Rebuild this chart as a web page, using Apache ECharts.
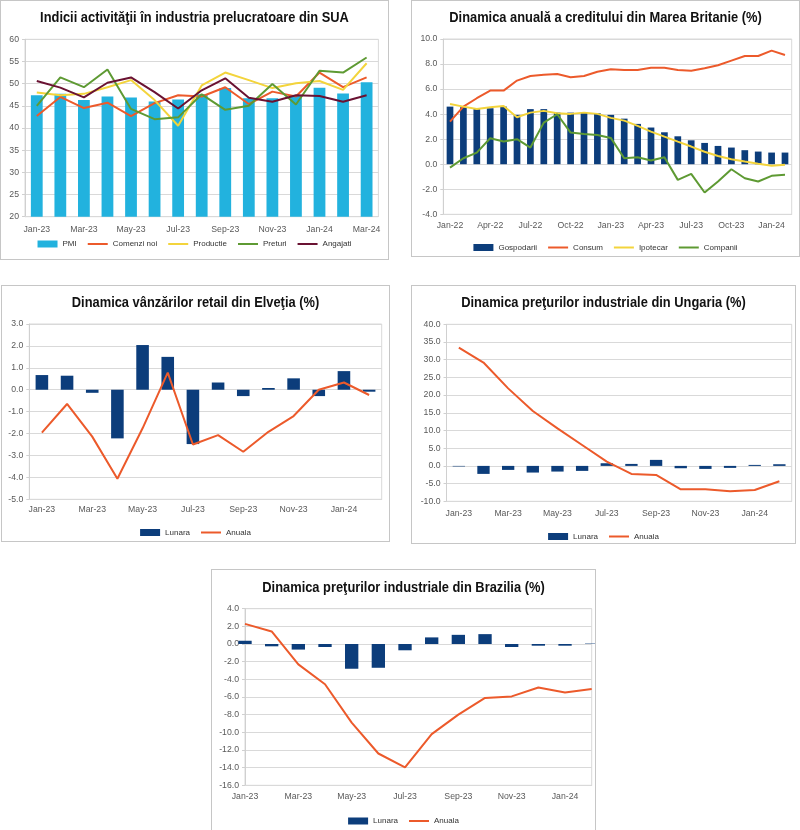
<!DOCTYPE html>
<html><head><meta charset="utf-8">
<script src="https://cdn.jsdelivr.net/npm/echarts@6/dist/echarts.min.js"></script>
<style>
body{margin:0;background:#fff;width:800px;height:830px;overflow:hidden;position:relative}
.p{position:absolute}
.b{position:absolute;border:1px solid #c6c6c6;box-sizing:border-box;pointer-events:none}
</style></head><body>
<div id="c1" class="p" style="left:0px;top:0px;width:389px;height:260px"></div>
<div id="c2" class="p" style="left:411px;top:0px;width:389px;height:257px"></div>
<div id="c3" class="p" style="left:1px;top:285px;width:389px;height:257px"></div>
<div id="c4" class="p" style="left:411px;top:285px;width:385px;height:259px"></div>
<div id="c5" class="p" style="left:211px;top:569px;width:385px;height:262px"></div>
<div class="b" style="left:0px;top:0px;width:389px;height:260px"></div>
<div class="b" style="left:411px;top:0px;width:389px;height:257px"></div>
<div class="b" style="left:1px;top:285px;width:389px;height:257px"></div>
<div class="b" style="left:411px;top:285px;width:385px;height:259px"></div>
<div class="b" style="left:211px;top:569px;width:385px;height:262px"></div>
<script>
// ---------- DATA ----------
const suaCategories = ['Jan-23','Feb-23','Mar-23','Apr-23','May-23','Jun-23','Jul-23','Aug-23','Sep-23','Oct-23','Nov-23','Dec-23','Jan-24','Feb-24','Mar-24'];
const suaPMI       = [47.4,47.7,46.3,47.1,46.9,46.0,46.4,47.6,49.0,46.7,46.7,47.4,49.1,47.8,50.3];
const suaComenzi   = [42.7,47.0,44.5,45.7,42.7,45.6,47.4,47.1,49.2,45.4,48.2,47.1,52.5,49.2,51.4];
const suaProductie = [48.0,47.4,47.7,49.2,50.8,46.3,40.5,49.6,52.5,50.8,49.0,50.1,50.6,48.6,54.6];
const suaPreturi   = [45.0,51.4,49.2,53.2,44.3,42.0,42.4,47.6,44.1,45.0,49.9,45.3,52.9,52.5,55.9];
const suaAngajati  = [50.6,49.1,46.9,50.2,51.4,48.1,44.4,48.5,51.2,46.8,45.9,47.4,47.2,45.9,47.4];

const ukCategories = ['Jan-22','Feb-22','Mar-22','Apr-22','May-22','Jun-22','Jul-22','Aug-22','Sep-22','Oct-22','Nov-22','Dec-22','Jan-23','Feb-23','Mar-23','Apr-23','May-23','Jun-23','Jul-23','Aug-23','Sep-23','Oct-23','Nov-23','Dec-23','Jan-24','Feb-24'];
const ukGospodarii = [4.6,4.55,4.4,4.47,4.6,3.94,4.4,4.4,4.12,4.12,4.12,4.07,3.94,3.64,3.22,2.93,2.55,2.23,1.91,1.7,1.46,1.33,1.12,1.01,0.93,0.93];
const ukConsum     = [3.4,4.6,5.27,5.88,5.88,6.68,7.05,7.15,7.2,6.94,7.05,7.39,7.58,7.53,7.53,7.71,7.71,7.53,7.47,7.66,7.9,8.27,8.64,8.64,9.07,8.72];
const ukIpotecar   = [4.81,4.6,4.41,4.55,4.65,3.75,4.12,4.26,4.07,4.02,4.12,4.02,3.7,3.48,3.06,2.6,2.2,1.8,1.41,1.0,0.66,0.4,0.21,0.03,-0.13,-0.05];
const ukCompanii   = [-0.27,0.48,0.93,2.07,1.81,2.0,1.33,3.32,3.99,2.53,2.42,2.34,2.1,0.48,0.56,0.29,0.56,-1.25,-0.77,-2.26,-1.38,-0.4,-1.12,-1.38,-0.93,-0.85];

const monthCategories = ['Jan-23','Feb-23','Mar-23','Apr-23','May-23','Jun-23','Jul-23','Aug-23','Sep-23','Oct-23','Nov-23','Dec-23','Jan-24','Feb-24'];
const chLunara = [0.67,0.64,-0.14,-2.22,2.04,1.5,-2.48,0.33,-0.29,0.08,0.52,-0.29,0.85,-0.09];
const chAnuala = [-1.96,-0.65,-2.14,-4.06,-1.76,0.78,-2.5,-2.07,-2.83,-1.92,-1.2,0.0,0.33,-0.24];

const huLunara = [-0.15,-2.26,-1.13,-1.88,-1.6,-1.41,0.75,0.56,1.7,-0.66,-0.85,-0.56,0.28,0.47];
const huAnuala = [33.4,29.2,21.9,15.5,10.6,5.9,1.2,-2.26,-2.54,-6.6,-6.6,-7.16,-6.8,-4.33];

const brLunara = [0.37,-0.26,-0.63,-0.34,-2.8,-2.69,-0.71,0.75,1.04,1.12,-0.34,-0.19,-0.19,0.05];
const brAnuala = [2.28,1.42,-2.31,-4.55,-8.9,-12.4,-13.96,-10.2,-8.0,-6.1,-5.93,-4.93,-5.49,-5.1];

// ---------- STYLE ----------
const AX_FONT = "'Liberation Sans', Arial, sans-serif";
const TITLE_FONT = "bold 15.5px 'Liberation Sans', Arial, sans-serif";
const NAVY = '#0c3d7b', CYAN = '#22b2de', ORANGE = '#ec5a2b', YELLOW = '#f3d43c', GREEN = '#5e9a33', MAROON = '#6a1232';
const GRIDC = '#d9d9d9';

function baseOption(o){
  return {
    animation:false,
    backgroundColor:'#fff',
    graphic:[{type:'text',x:o.width/2,y:o.titleTop,scaleX:0.83,z:10,
      style:{text:o.title,font:TITLE_FONT,fill:'#111',align:'center',verticalAlign:'top',
             textAlign:'center',textVerticalAlign:'top'}}],
    legend:{top:o.legendTop,left:'center',padding:0,itemWidth:20,itemHeight:7,itemGap:10,
      textStyle:{fontFamily:AX_FONT,fontSize:8,color:'#333'},data:o.legend},
    grid:{left:o.grid[0],right:o.grid[1],top:o.grid[2],bottom:o.grid[3],show:true,
      borderColor:GRIDC,borderWidth:1,containLabel:false,outerBoundsMode:'none'},
    xAxis:{type:'category',data:o.cats,boundaryGap:o.boundaryGap,
      axisLine:{onZero:false,lineStyle:{color:GRIDC}},axisTick:{show:false},
      axisLabel:{interval:o.labelInterval,margin:o.xMargin,fontSize:8.7,color:'#595959',fontFamily:AX_FONT,hideOverlap:false}},
    yAxis:{type:'value',min:o.yMin,max:o.yMax,interval:o.yInt,
      axisLine:{show:true,lineStyle:{color:'#d0d0d0'}},
      axisTick:{show:true,length:3,lineStyle:{color:'#d0d0d0'}},
      splitLine:{show:true,lineStyle:{color:GRIDC,width:1}},
      axisLabel:{margin:6,fontSize:8.7,color:'#595959',fontFamily:AX_FONT,
        formatter:v=>v.toFixed(o.yDec)}},
    series:o.series
  };
}
const barLeg = n => ({name:n,icon:'rect'});
const lineLeg = n => ({name:n,itemStyle:{opacity:0}});
const bar = (n,d,c) => ({name:n,type:'bar',data:d,barWidth:'50%',itemStyle:{color:c},clip:true});
const line = (n,d,c) => ({name:n,type:'line',data:d,symbol:'none',lineStyle:{color:c,width:2},itemStyle:{color:c}});

// Chart 1: SUA
echarts.init(document.getElementById('c1')).setOption(baseOption({
  title:'Indicii activităţii în industria prelucratoare din SUA', titleTop:10, width:389,
  grid:[25,10.6,39.3,43.3], legendTop:240,
  legend:[barLeg('PMI'),lineLeg('Comenzi noi'),lineLeg('Productie'),lineLeg('Preturi'),lineLeg('Angajati')],
  cats:suaCategories, boundaryGap:true, labelInterval:1, xMargin:8,
  yMin:20,yMax:60,yInt:5,yDec:0,
  series:[bar('PMI',suaPMI,CYAN),line('Comenzi noi',suaComenzi,ORANGE),line('Productie',suaProductie,YELLOW),
          line('Preturi',suaPreturi,GREEN),line('Angajati',suaAngajati,MAROON)]
}));

// Chart 2: Marea Britanie
echarts.init(document.getElementById('c2')).setOption(baseOption({
  title:'Dinamica anuală a creditului din Marea Britanie (%)', titleTop:10, width:389,
  grid:[32.3,8.3,39,42.7], legendTop:243.5,
  legend:[barLeg('Gospodarii'),lineLeg('Consum'),lineLeg('Ipotecar'),lineLeg('Companii')],
  cats:ukCategories, boundaryGap:true, labelInterval:2, xMargin:7,
  yMin:-4,yMax:10,yInt:2,yDec:1,
  series:[bar('Gospodarii',ukGospodarii,NAVY),line('Consum',ukConsum,ORANGE),line('Ipotecar',ukIpotecar,YELLOW),
          line('Companii',ukCompanii,GREEN)]
}));

// Chart 3: Elvetia
echarts.init(document.getElementById('c3')).setOption(baseOption({
  title:'Dinamica vânzărilor retail din Elveţia (%)', titleTop:10, width:389,
  grid:[28.3,8.3,39,42.7], legendTop:243.5,
  legend:[barLeg('Lunara'),lineLeg('Anuala')],
  cats:monthCategories, boundaryGap:true, labelInterval:1, xMargin:6,
  yMin:-5,yMax:3,yInt:1,yDec:1,
  series:[bar('Lunara',chLunara,NAVY),line('Anuala',chAnuala,ORANGE)]
}));

// Chart 4: Ungaria
echarts.init(document.getElementById('c4')).setOption(baseOption({
  title:'Dinamica preţurilor industriale din Ungaria (%)', titleTop:10, width:385,
  grid:[35.5,4.3,39.3,42.7], legendTop:247.5,
  legend:[barLeg('Lunara'),lineLeg('Anuala')],
  cats:monthCategories, boundaryGap:true, labelInterval:1, xMargin:8,
  yMin:-10,yMax:40,yInt:5,yDec:1,
  series:[bar('Lunara',huLunara,NAVY),line('Anuala',huAnuala,ORANGE)]
}));

// Chart 5: Brazilia
echarts.init(document.getElementById('c5')).setOption(baseOption({
  title:'Dinamica preţurilor industriale din Brazilia (%)', titleTop:11, width:385,
  grid:[34,4.3,39.7,45.7], legendTop:248,
  legend:[barLeg('Lunara'),lineLeg('Anuala')],
  cats:monthCategories, boundaryGap:false, labelInterval:1, xMargin:7,
  yMin:-16,yMax:4,yInt:2,yDec:1,
  series:[bar('Lunara',brLunara,NAVY),line('Anuala',brAnuala,ORANGE)]
}));
</script>
</body></html>
